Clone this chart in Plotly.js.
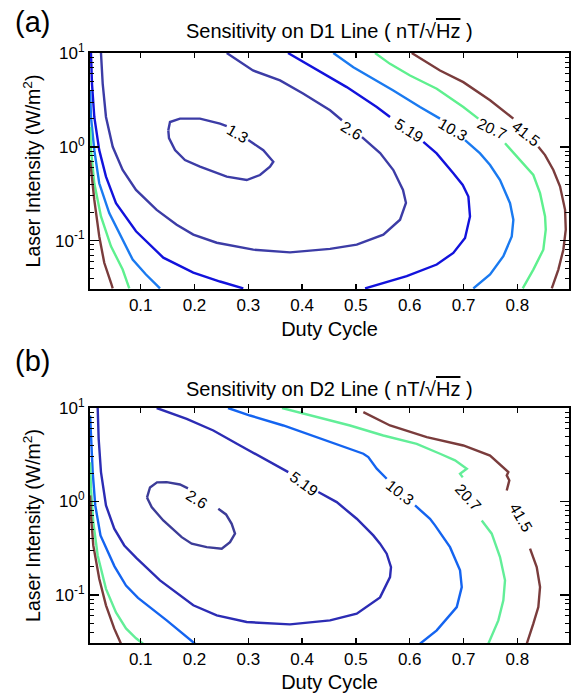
<!DOCTYPE html>
<html>
<head>
<meta charset="utf-8">
<script src="https://cdn.plot.ly/plotly-3.0.1.min.js"></script>
<style>html,body{margin:0;padding:0;background:#fff;}#chart{width:572px;height:693px;}</style>
</head>
<body>
<div id="chart"></div>
<script>
// ---------- Data (Duty Cycle vs Laser Intensity, W/m^2) ----------
const levelsA = ['1.3', '2.6', '5.19', '10.3', '20.7', '41.5'];
const levelsB = ['2.6', '5.19', '10.3', '20.7', '41.5'];
const xTicks = [0.1, 0.2, 0.3, 0.4, 0.5, 0.6, 0.7, 0.8];
const xTickText = ['0.1', '0.2', '0.3', '0.4', '0.5', '0.6', '0.7', '0.8'];
const yTicks = [0.1, 1, 10];
const yTickText = ['10<sup>-1</sup>', '10<sup>0</sup>', '10<sup>1</sup>'];
const yMinorTicks = [0.04, 0.05, 0.06, 0.07, 0.08, 0.09, 0.2, 0.3, 0.4, 0.5, 0.6, 0.7, 0.8, 0.9, 2, 3, 4, 5, 6, 7, 8, 9];

// Panel (a): D1 line contours
const a13_x = [0.1513, 0.1545, 0.173, 0.2102, 0.2474, 0.2599, null, 0.300, 0.3279, 0.3465, 0.3403, 0.3217, 0.297, 0.2599, 0.2102, 0.1823, 0.1638, 0.1526, 0.1513];
const a13_y = [1.50, 1.84, 2.00, 2.00, 1.77, 1.66, null, 1.18, 0.922, 0.693, 0.614, 0.501, 0.443, 0.481, 0.614, 0.722, 0.922, 1.24, 1.50];

const a26_x = [0.0262, 0.0294, 0.0355, 0.048, 0.0665, 0.0913, 0.1297, 0.1669, 0.1978, 0.2413, 0.3093, 0.3775, 0.4519, 0.5015, 0.551, 0.582, 0.593, 0.5875, 0.5695, 0.545, 0.5113, null, 0.474, 0.4519, 0.4017, 0.359, 0.3087, 0.2599];
const a26_y = [10, 4.70, 2.08, 1.0, 0.566, 0.347, 0.213, 0.148, 0.116, 0.0951, 0.0802, 0.0751, 0.0817, 0.0907, 0.116, 0.167, 0.253, 0.347, 0.566, 0.857, 1.27, null, 1.92, 2.45, 3.71, 5.10, 6.51, 10];

const a519L_x = [0.0076, 0.0095, 0.0138, 0.023, 0.0355, 0.0541, 0.0913, 0.142, 0.1978, 0.2474, 0.2907];
const a519L_y = [10, 4.70, 2.08, 0.922, 0.481, 0.251, 0.126, 0.0659, 0.0457, 0.0367, 0.031];
const a519R_x = [0.517, 0.5944, 0.6502, 0.681, 0.7028, 0.712, 0.709, 0.6985, 0.681, 0.650, 0.6253, null, 0.5634, 0.5387, 0.4829, 0.4519, 0.4208, 0.3738];
const a519R_y = [0.031, 0.0418, 0.0557, 0.0741, 0.107, 0.181, 0.295, 0.393, 0.522, 0.851, 1.13, null, 2.08, 2.66, 4.33, 5.52, 7.05, 10];

const a103L_x = [0.006, 0.0076, 0.0138, 0.023, 0.0416, 0.0665, 0.0851, 0.1098, 0.1359];
const a103L_y = [3.99, 2.08, 0.922, 0.409, 0.197, 0.1025, 0.0628, 0.0436, 0.031];
const a103R_x = [0.7182, 0.7493, 0.774, 0.7896, 0.7926, 0.7864, 0.7678, 0.7493, 0.7307, 0.7028, null, 0.6563, 0.6191, 0.5695, 0.5323, 0.4952, 0.458];
const a103R_y = [0.031, 0.0436, 0.0682, 0.111, 0.167, 0.251, 0.443, 0.640, 0.851, 1.18, null, 2.00, 2.66, 3.99, 5.31, 7.05, 10];

const a207L_x = [0.006, 0.0076, 0.0138, 0.0262, 0.0448, 0.0665, 0.0788];
const a207L_y = [1.63, 0.922, 0.409, 0.181, 0.0871, 0.0492, 0.031];
const a207R_x = [0.810, 0.8297, 0.8483, 0.8528, 0.8515, 0.8422, 0.8297, 0.805, 0.7771, null, 0.7275, 0.6996, 0.6502, 0.6006, 0.5634, 0.5355];
const a207R_y = [0.031, 0.0492, 0.0802, 0.131, 0.181, 0.321, 0.501, 0.722, 1.09, null, 2.00, 2.66, 4.16, 5.75, 7.66, 10];

const a415L_x = [0.006, 0.0138, 0.023, 0.0323, 0.0448, 0.048];
const a415L_y = [0.722, 0.272, 0.111, 0.0581, 0.0356, 0.031];
const a415R_x = [0.864, 0.8762, 0.8855, 0.890, 0.8887, 0.8794, 0.8669, 0.8515, 0.839, null, 0.7926, 0.7493, 0.6996, 0.6563, 0.6037];
const a415R_y = [0.031, 0.0492, 0.0802, 0.131, 0.213, 0.377, 0.566, 0.817, 1.0, null, 2.00, 3.13, 4.89, 6.51, 10];

const aLabel_x = [0.280, 0.492, 0.599, 0.680, 0.752, 0.816];
const aLabel_y = [1.39, 1.50, 1.50, 1.54, 1.57, 1.39];
const aLabel_angle = [30, 32, 33, 30, 25, 38];

// Panel (b): D2 line contours
const b26_x = [0.1117, 0.1173, 0.1303, 0.1483, 0.173, 0.1879, null, 0.2442, 0.2586, 0.2691, 0.2753, 0.266, 0.2506, 0.2227, 0.1948, 0.1762, 0.142, 0.1204, 0.1117];
const b26_y = [1.10, 1.41, 1.60, 1.61, 1.52, 1.38, null, 0.835, 0.726, 0.577, 0.452, 0.367, 0.312, 0.324, 0.353, 0.415, 0.626, 0.869, 1.10];

const b519_x = [0.0201, 0.0219, 0.0262, 0.0355, 0.0509, 0.0695, 0.0918, 0.1359, 0.1978, 0.2413, 0.297, 0.3775, 0.4519, 0.5015, 0.5448, 0.5634, 0.5652, 0.5572, 0.5448, 0.5323, 0.5015, 0.4643, 0.4301, null, 0.3743, 0.3403, 0.2846, 0.235, 0.1855, 0.1297];
const b519_y = [10, 4.69, 2.06, 0.906, 0.511, 0.338, 0.249, 0.143, 0.0773, 0.0604, 0.0512, 0.0483, 0.0533, 0.0629, 0.094, 0.155, 0.198, 0.276, 0.353, 0.433, 0.653, 0.984, 1.26, null, 2.06, 2.63, 3.97, 5.75, 7.66, 10];

const b103L_x = [0.006, 0.0076, 0.0108, 0.0156, 0.0253, 0.0513, 0.0727, 0.095, 0.1483, 0.2009];
const b103L_y = [8.31, 4.69, 2.06, 0.906, 0.433, 0.202, 0.126, 0.093, 0.0533, 0.03];
const b103R_x = [0.2623, 0.3032, 0.3651, 0.4271, 0.4766, 0.5138, 0.523, 0.5294, 0.5387, 0.5572, null, 0.6099, 0.6377, 0.647, 0.6749, 0.6935, 0.6967, 0.6874, 0.6502, 0.6191];
const b103R_y = [10, 8.31, 6.50, 4.87, 3.81, 3.24, 2.98, 2.63, 2.24, 1.75, null, 0.906, 0.653, 0.554, 0.324, 0.183, 0.121, 0.074, 0.0417, 0.03];

const b207L_x = [0.006, 0.0076, 0.0119, 0.0201, 0.0355, 0.0541, 0.0727, 0.0913, 0.1043];
const b207L_y = [2.63, 1.37, 0.601, 0.264, 0.116, 0.065, 0.0438, 0.0343, 0.03];
const b207R_x = [0.3626, 0.4147, 0.489, 0.5509, 0.613, 0.6563, 0.6842, 0.706, 0.6935, 0.6985, null, 0.7338, 0.7524, 0.7678, 0.7771, 0.774, 0.7647, 0.7461];
const b207R_y = [10, 8.31, 6.50, 5.08, 4.14, 3.24, 2.75, 2.24, 1.98, 1.81, null, 0.626, 0.452, 0.254, 0.143, 0.0873, 0.0533, 0.03];

const b415L_x = [0.006, 0.0076, 0.0119, 0.023, 0.0355, 0.0509, 0.0634];
const b415L_y = [1.16, 0.708, 0.338, 0.149, 0.0773, 0.0435, 0.03];
const b415R_x = [0.5138, 0.5634, 0.6316, 0.6996, 0.7493, 0.774, 0.7833, 0.7803, 0.7851, 0.7803, null, 0.8236, 0.836, 0.8422, 0.839, 0.8297, 0.8175];
const b415R_y = [9.02, 6.50, 4.87, 3.97, 3.10, 2.33, 2.06, 1.90, 1.68, 1.31, null, 0.312, 0.198, 0.121, 0.074, 0.0492, 0.03];

const bLabel_x = [0.205, 0.403, 0.582, 0.709, 0.807];
const bLabel_y = [1.05, 1.56, 1.25, 1.10, 0.674];
const bLabel_angle = [32, 36, 38, 48, 60];

// ---------- Styles ----------
const colA = {'1.3': '#3c3ca6', '2.6': '#3c3ca6', '5.19': '#1212dc', '10.3': '#1a7af0', '20.7': '#5ef08e', '41.5': '#7a3c3c'};
const colB = {'2.6': '#3c3c98', '5.19': '#2c2cb4', '10.3': '#1464f0', '20.7': '#62ee98', '41.5': '#7a3c3c'};

const curvesA = [
  ['1.3', a13_x, a13_y], ['2.6', a26_x, a26_y],
  ['5.19', a519L_x, a519L_y], ['5.19', a519R_x, a519R_y],
  ['10.3', a103L_x, a103L_y], ['10.3', a103R_x, a103R_y],
  ['20.7', a207L_x, a207L_y], ['20.7', a207R_x, a207R_y],
  ['41.5', a415L_x, a415L_y], ['41.5', a415R_x, a415R_y]
];
const curvesB = [
  ['2.6', b26_x, b26_y], ['5.19', b519_x, b519_y],
  ['10.3', b103L_x, b103L_y], ['10.3', b103R_x, b103R_y],
  ['20.7', b207L_x, b207L_y], ['20.7', b207R_x, b207R_y],
  ['41.5', b415L_x, b415L_y], ['41.5', b415R_x, b415R_y]
];

const traces = [];
curvesA.forEach(c => traces.push({x: c[1], y: c[2], xaxis: 'x', yaxis: 'y', type: 'scatter', mode: 'lines',
  line: {color: colA[c[0]], width: 2.4}, hoverinfo: 'skip', connectgaps: false}));
curvesB.forEach(c => traces.push({x: c[1], y: c[2], xaxis: 'x2', yaxis: 'y2', type: 'scatter', mode: 'lines',
  line: {color: colB[c[0]], width: 2.4}, hoverinfo: 'skip', connectgaps: false}));

const FONT = 'Liberation Sans, Arial, Helvetica, sans-serif';
const annotations = [];
levelsA.forEach((t, i) => annotations.push({xref: 'x', yref: 'y', x: aLabel_x[i], y: Math.log10(aLabel_y[i]),
  text: t, showarrow: false, textangle: aLabel_angle[i], font: {size: 15.5, family: FONT, color: 'black'}}));
levelsB.forEach((t, i) => annotations.push({xref: 'x2', yref: 'y2', x: bLabel_x[i], y: Math.log10(bLabel_y[i]),
  text: t, showarrow: false, textangle: bLabel_angle[i], font: {size: 15.5, family: FONT, color: 'black'}}));

const titleA = 'Sensitivity on D1 Line ( nT/√<span style="text-decoration:overline">Hz</span> )';
const titleB = 'Sensitivity on D2 Line ( nT/√<span style="text-decoration:overline">Hz</span> )';
annotations.push({xref: 'paper', yref: 'paper', x: 0.5, y: 1.037, xanchor: 'center', yanchor: 'middle', text: titleA, showarrow: false, font: {size: 20, family: FONT}});
annotations.push({xref: 'paper', yref: 'paper', x: 0.5, y: 0.431, xanchor: 'center', yanchor: 'middle', text: titleB, showarrow: false, font: {size: 20, family: FONT}});
annotations.push({xref: 'paper', yref: 'paper', x: -0.121, y: 1.052, xanchor: 'center', yanchor: 'middle', text: '(a)', showarrow: false, font: {size: 29, family: FONT}});
annotations.push({xref: 'paper', yref: 'paper', x: -0.121, y: 0.478, xanchor: 'center', yanchor: 'middle', text: '(b)', showarrow: false, font: {size: 29, family: FONT}});

function xAxis(anchor) {
  return {anchor: anchor, domain: [0, 1], range: [0.0058, 0.896], tickmode: 'array', tickvals: xTicks, ticktext: xTickText,
    ticks: 'inside', ticklen: 5, tickwidth: 1.5, tickcolor: 'black', showline: true, linewidth: 2, linecolor: 'black',
    mirror: 'allticks', showgrid: false, zeroline: false, tickfont: {size: 17, family: FONT},
    title: {text: 'Duty Cycle', font: {size: 20, family: FONT}, standoff: 8}};
}
function yAxis(anchor, domain) {
  return {anchor: anchor, domain: domain, type: 'log', range: [-1.515, 1], tickmode: 'array', tickvals: yTicks, ticktext: yTickText,
    ticks: 'inside', ticklen: 9, tickwidth: 1.5, tickcolor: 'black', showline: true, linewidth: 2, linecolor: 'black',
    mirror: 'allticks', showgrid: false, zeroline: false, tickfont: {size: 17, family: FONT},
    minor: {tickmode: 'array', tickvals: yMinorTicks, ticks: 'inside', ticklen: 4, tickwidth: 1, tickcolor: 'black', showgrid: false},
    title: {text: 'Laser Intensity (W/m<sup>2</sup>)', font: {size: 19.5, family: FONT}, standoff: 9}};
}

const layout = {
  width: 572, height: 693,
  margin: {l: 90, r: 3, t: 53, b: 50},
  paper_bgcolor: 'white', plot_bgcolor: 'white',
  font: {family: FONT, size: 17, color: 'black'},
  showlegend: false,
  xaxis: xAxis('y'), yaxis: yAxis('x', [0.6, 1]),
  xaxis2: xAxis('y2'), yaxis2: yAxis('x2', [0, 0.3983]),
  annotations: annotations
};

Plotly.newPlot('chart', traces, layout, {staticPlot: true, displayModeBar: false});
</script>
</body>
</html>
